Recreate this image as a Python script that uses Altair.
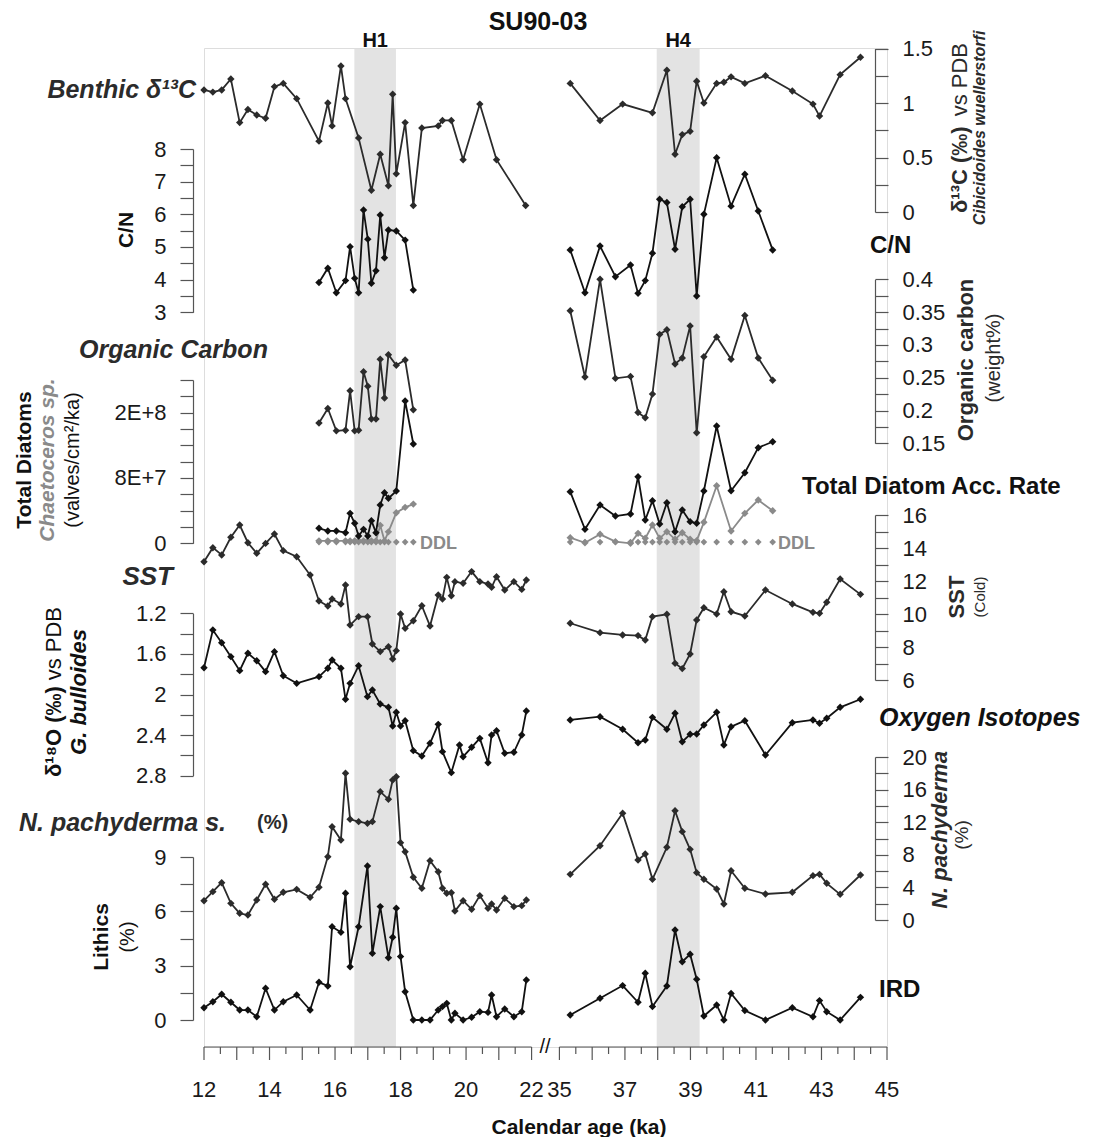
import altair as alt
import pandas as pd

FONT = "Liberation Sans"
AX = "#555555"
GAP = 0.85
W, H = 683, 999
OX, OY = 204, 48          # page position of the plot origin


def px(v):
    return v - OX


def py(v):
    return v - OY


def to_xp(a):
    return a if a < 30 else a - 35 + 22 + GAP


X0, X1 = 12.0, to_xp(45)

# ---------------- data ----------------
# Heinrich events (ka)
H_NAMES = ["H1", "H4"]
H_START = [16.59, 37.97]
H_END = [17.86, 39.28]

# Benthic d13C
BEN_AGE_L = [12.00, 12.27, 12.54, 12.82, 13.09, 13.34, 13.61, 13.88, 14.15, 14.42, 14.83, 15.51,
             15.78, 15.91, 16.18, 16.32, 16.72, 17.11, 17.38, 17.63, 17.76, 17.87, 18.14, 18.39,
             18.65, 19.15, 19.28, 19.55, 19.91, 20.42, 20.93, 21.82]
BEN_VAL_L = [1.12, 1.10, 1.12, 1.22, 0.82, 0.94, 0.89, 0.86, 1.15, 1.18, 1.04, 0.65,
             1.00, 0.79, 1.34, 1.04, 0.68, 0.20, 0.53, 0.24, 1.08, 0.35, 0.82, 0.06,
             0.77, 0.79, 0.84, 0.84, 0.48, 0.99, 0.48, 0.06]
BEN_AGE_R = [35.33, 36.24, 36.93, 37.84, 38.28, 38.53, 38.75, 38.99, 39.19, 39.41, 39.80, 40.02,
             40.24, 40.66, 41.29, 42.11, 42.74, 42.94, 43.57, 44.19]
BEN_VAL_R = [1.18, 0.84, 0.99, 0.91, 1.30, 0.53, 0.71, 0.74, 1.20, 1.00, 1.18, 1.19,
             1.24, 1.18, 1.25, 1.11, 0.99, 0.88, 1.26, 1.42]

# C/N, organic carbon, diatoms share sampling
GEO_AGE_L = [15.51, 15.78, 16.04, 16.32, 16.46, 16.60, 16.72, 16.87, 17.00, 17.11, 17.25, 17.38,
             17.51, 17.63, 17.87, 18.14, 18.39]
GEO_AGE_R = [35.33, 35.78, 36.24, 36.71, 37.17, 37.40, 37.62, 37.84, 38.06, 38.28, 38.53, 38.75,
             38.99, 39.19, 39.41, 39.80, 40.24, 40.66, 41.07, 41.51]
CN_L = [3.91, 4.35, 3.60, 3.97, 5.01, 4.04, 3.60, 6.13, 5.24, 3.89, 4.27, 5.98, 4.67, 5.52, 5.49, 5.21, 3.68]
CN_R = [4.91, 3.60, 5.03, 4.09, 4.45, 3.58, 3.97, 4.81, 6.46, 6.36, 4.93, 6.23, 6.46, 3.50, 6.00, 7.73,
        6.25, 7.23, 6.10, 4.91]
OC_L = [0.181, 0.203, 0.169, 0.170, 0.230, 0.169, 0.170, 0.259, 0.237, 0.187, 0.187, 0.278, 0.219,
        0.285, 0.269, 0.277, 0.201]
OC_R = [0.352, 0.251, 0.400, 0.249, 0.252, 0.197, 0.189, 0.225, 0.316, 0.323, 0.271, 0.280, 0.329,
        0.166, 0.282, 0.312, 0.278, 0.345, 0.280, 0.246]
DIA_L = [1.84e7, 1.51e7, 1.51e7, 1.30e7, 3.67e7, 2.45e7, 0.89e7, 1.71e7, 0.89e7, 2.77e7, 1.30e7, 4.69e7,
         6.20e7, 5.51e7, 6.41e7, 1.743e8, 1.216e8]
DIA_R = [6.32e7, 1.71e7, 4.69e7, 3.34e7, 3.59e7, 8.16e7, 2.85e7, 5.22e7, 2.36e7, 4.97e7, 1.42e7, 4.08e7,
         2.65e7, 2.45e7, 6.41e7, 1.437e8, 6.44e7, 8.65e7, 1.171e8, 1.244e8]
CHA_L = [0.3e7, 0.3e7, 0.3e7, 0.3e7, 0.3e7, 0.3e7, 0.3e7, 0.3e7, 0.3e7, 0.3e7, 0.3e7, 2.2e7,
         0.3e7, 1.4e7, 3.75e7, 4.4e7, 4.8e7]
CHA_R = [0.69e7, 0.07e7, 1.10e7, 0.2e7, 0.0, 1.22e7, 0.61e7, 2.24e7, 0.61e7, 1.42e7, 0.49e7, 1.30e7,
         0.49e7, 0.32e7, 2.57e7, 7.05e7, 1.51e7, 3.67e7, 5.30e7, 3.99e7]
DDL_LEVEL = 1.5e6

# SST, N. pachyderma, lithics share sampling
MAIN_AGE_L = [12.00, 12.27, 12.54, 12.82, 13.09, 13.34, 13.61, 13.88, 14.15, 14.42, 14.83, 15.24,
              15.51, 15.78, 15.91, 16.18, 16.32, 16.46, 16.72, 16.99, 17.14, 17.38, 17.63, 17.76,
              17.87, 18.00, 18.14, 18.39, 18.65, 18.90, 19.15, 19.28, 19.41, 19.55, 19.66, 19.91,
              20.17, 20.42, 20.67, 20.78, 20.93, 21.18, 21.46, 21.70, 21.84]
MAIN_AGE_R = [35.33, 36.24, 36.93, 37.40, 37.62, 37.84, 38.28, 38.53, 38.75, 38.99, 39.19, 39.41,
              39.80, 40.02, 40.24, 40.66, 41.29, 42.11, 42.74, 42.94, 43.16, 43.57, 44.19]
SST_L = [13.17, 14.02, 13.58, 14.65, 15.39, 14.32, 13.68, 14.28, 14.85, 13.84, 13.47, 12.36,
         10.79, 10.48, 10.91, 10.61, 11.76, 9.33, 9.84, 9.84, 8.18, 7.72, 8.02, 7.27,
         7.78, 10.0, 9.13, 9.59, 10.50, 9.27, 11.15, 10.91, 12.22, 11.11, 11.96, 11.86,
         12.57, 11.96, 11.82, 11.62, 12.26, 11.45, 11.96, 11.49, 12.06]
SST_R = [9.44, 8.87, 8.73, 8.69, 8.42, 9.84, 9.98, 7.01, 6.69, 7.58, 9.64, 10.38,
         10.0, 11.35, 10.14, 9.88, 11.45, 10.61, 10.10, 10.04, 10.71, 12.12, 11.19]
NP_L = [2.37, 3.48, 4.58, 2.04, 0.82, 0.61, 2.45, 4.38, 2.54, 3.40, 3.76, 2.78,
        4.01, 7.77, 11.45, 9.82, 18.0, 12.36, 12.07, 11.86, 12.07, 15.75, 14.81, 17.18,
        17.59, 9.49, 8.38, 5.24, 3.89, 7.28, 5.93, 3.89, 3.28, 3.35, 1.10, 2.37,
        1.31, 2.99, 1.43, 1.96, 1.23, 2.66, 1.64, 1.76, 2.45]
NP_R = [5.60, 9.12, 13.09, 7.36, 8.10, 4.99, 8.92, 13.41, 10.84, 8.67, 5.81, 4.99,
        3.80, 1.96, 6.05, 3.89, 3.19, 3.40, 5.44, 5.60, 4.50, 3.15, 5.52]
LIT_L = [0.68, 1.01, 1.42, 0.98, 0.55, 0.55, 0.18, 1.75, 0.55, 1.01, 1.38, 0.55,
         2.08, 1.88, 5.15, 4.84, 7.0, 2.94, 5.15, 8.50, 3.68, 6.26, 3.44, 4.57,
         6.17, 3.50, 1.56, 0.0, 0.0, 0.0, 0.55, 0.74, 0.92, 0.0, 0.37, 0.0,
         0.15, 0.46, 0.42, 1.38, 0.18, 0.61, 0.18, 0.46, 2.21]
LIT_R = [0.28, 1.20, 1.90, 0.98, 2.58, 0.74, 1.88, 4.97, 3.22, 3.63, 2.25, 0.22,
         0.83, 0.0, 1.47, 0.52, 0.0, 0.68, 0.18, 1.07, 0.46, 0.0, 1.25]

# Planktonic d18O (G. bulloides)
O18_AGE_L = [12.00, 12.27, 12.54, 12.82, 13.09, 13.34, 13.61, 13.88, 14.15, 14.42, 14.83, 15.51,
             15.78, 15.91, 16.18, 16.32, 16.46, 16.72, 16.99, 17.14, 17.38, 17.63, 17.76, 17.87,
             18.00, 18.14, 18.39, 18.65, 18.90, 19.15, 19.28, 19.55, 19.80, 19.91, 20.17, 20.42,
             20.67, 20.78, 20.93, 21.18, 21.46, 21.70, 21.84]
O18_L = [1.736, 1.365, 1.490, 1.627, 1.765, 1.594, 1.667, 1.775, 1.578, 1.815, 1.890, 1.824,
         1.742, 1.660, 1.742, 2.047, 1.890, 1.716, 2.021, 1.956, 2.094, 2.126, 2.310, 2.175,
         2.310, 2.258, 2.553, 2.606, 2.481, 2.294, 2.563, 2.770, 2.497, 2.613, 2.520, 2.432,
         2.672, 2.399, 2.357, 2.579, 2.569, 2.399, 2.163]
O18_R = [2.251, 2.219, 2.343, 2.475, 2.448, 2.225, 2.343, 2.185, 2.465, 2.392, 2.389, 2.300,
         2.175, 2.497, 2.317, 2.258, 2.596, 2.278, 2.251, 2.284, 2.234, 2.126, 2.047]

# axis ticks
BEN_TICKS = [0, 0.25, 0.5, 0.75, 1.0, 1.25, 1.5]
CN_TICKS = [3, 3.5, 4, 4.5, 5, 5.5, 6, 6.5, 7, 7.5, 8]
OC_TICKS = [0.15, 0.175, 0.2, 0.225, 0.25, 0.275, 0.3, 0.325, 0.35, 0.375, 0.4]
DIA_TICKS = [0, 20000000, 40000000, 60000000, 80000000, 100000000, 120000000, 140000000,
             160000000, 180000000, 200000000]
SST_TICKS = [6, 7, 8, 9, 10, 11, 12, 13, 14, 15, 16]
O18_TICKS = [1.2, 1.4, 1.6, 1.8, 2.0, 2.2, 2.4, 2.6, 2.8]
NP_TICKS = [0, 2, 4, 6, 8, 10, 12, 14, 16, 18, 20]
LIT_TICKS = [0, 1.5, 3, 4.5, 6, 7.5, 9]
XT_MAJOR_L = [12, 13, 14, 15, 16, 17, 18, 19, 20, 21, 22]
XT_MINOR_L = [12.5, 13.5, 14.5, 15.5, 16.5, 17.5, 18.5, 19.5, 20.5, 21.5]
XT_MAJOR_R = [35, 36, 37, 38, 39, 40, 41, 42, 43, 44, 45]
XT_MINOR_R = [35.5, 36.5, 37.5, 38.5, 39.5, 40.5, 41.5, 42.5, 43.5, 44.5]
XT_LABELS = [12, 14, 16, 18, 20, 22, 35, 37, 39, 41, 43, 45]


# ---------------- helpers ----------------
def frame(ages_l, vals_l, ages_r, vals_r):
    rows = []
    for a, v in zip(ages_l, vals_l):
        rows.append({"seg": "L", "age": a, "xp": to_xp(a), "v": v})
    for a, v in zip(ages_r, vals_r):
        rows.append({"seg": "R", "age": a, "xp": to_xp(a), "v": v})
    return pd.DataFrame(rows)


XS = alt.Scale(domain=[X0, X1], nice=False, zero=False)


def xenc(field="xp"):
    return alt.X(f"{field}:Q", scale=XS, axis=None)


def series(df, dom, page_rng, color, orient=None, values=None, label_expr=None,
           line=True, size=55, sw=1.8):
    yscale = alt.Scale(domain=dom, range=[py(page_rng[0]), py(page_rng[1])], nice=False, zero=False)
    if orient:
        axis = alt.Axis(orient=orient, offset=11 if orient == "left" else -12, values=values,
                        labelExpr=label_expr, format="~g", title=None, grid=False,
                        tickSize=13, tickColor=AX, domainColor=AX, tickWidth=1.2, domainWidth=1.2,
                        labelFont=FONT, labelFontSize=22, labelColor="#1a1a1a", labelPadding=14,
                        labelFlush=False, labelOverlap=False)
    else:
        axis = None
    base = alt.Chart(df)
    if line:
        m = base.mark_line(color=color, strokeWidth=sw, clip=False,
                           point=alt.OverlayMarkDef(shape="diamond", filled=True, size=size,
                                                    color=color, opacity=1))
    else:
        m = base.mark_point(shape="diamond", filled=True, size=size, color=color, opacity=1, clip=False)
    return m.encode(x=xenc(), y=alt.Y("v:Q", scale=yscale, axis=axis), detail="seg:N")


def label(text, x, y, size, weight="bold", style="normal", color="#1a1a1a", align="left", angle=0):
    return alt.Chart(pd.DataFrame({"a": [0]})).mark_text(
        text=text, font=FONT, fontSize=size, fontWeight=weight, fontStyle=style, color=color,
        align=align, baseline="middle", angle=angle, clip=False
    ).encode(x=alt.value(px(x)), y=alt.value(py(y)))


layers = []

# Heinrich bands
bands = pd.DataFrame({"name": H_NAMES,
                      "xs": [to_xp(a) for a in H_START],
                      "xe": [to_xp(a) for a in H_END]})
bands["xm"] = (bands["xs"] + bands["xe"]) / 2
layers.append(alt.Chart(bands).mark_rect(color="#e3e3e3").encode(
    x=xenc("xs"), x2="xe:Q", y=alt.value(py(49)), y2=alt.value(py(1047))))
layers.append(alt.Chart(bands).mark_text(font=FONT, fontSize=20, fontWeight="bold", color="#111",
                                         baseline="middle", clip=False).encode(
    x=xenc("xm"), y=alt.value(py(41)), text="name:N"))

DARK = "#2b2b2b"
BLACK = "#111111"
GRAY = "#8a8a8a"

layers.append(series(frame(BEN_AGE_L, BEN_VAL_L, BEN_AGE_R, BEN_VAL_R), [0, 1.5], (212, 48.5), DARK,
                     "right", BEN_TICKS, "datum.value*2 == round(datum.value*2) ? datum.label : ''"))
layers.append(series(frame(GEO_AGE_L, CN_L, GEO_AGE_R, CN_R), [3, 8], (312.3, 149), BLACK,
                     "left", CN_TICKS, "datum.value == round(datum.value) ? datum.label : ''"))
layers.append(series(frame(GEO_AGE_L, OC_L, GEO_AGE_R, OC_R), [0.15, 0.4], (443.3, 279.3), DARK,
                     "right", OC_TICKS,
                     "abs(datum.value*20 - round(datum.value*20)) < 0.01 ? datum.label : ''"))
dia_expr = ("datum.value == 0 ? '0' : datum.value == 80000000 ? '8E+7' : "
            "datum.value == 160000000 ? '2E+8' : ''")
layers.append(series(frame(GEO_AGE_L, [DDL_LEVEL] * len(GEO_AGE_L), GEO_AGE_R, [DDL_LEVEL] * len(GEO_AGE_R)),
                     [0, 2e8], (543.3, 380), GRAY, line=False, size=45))
layers.append(series(frame(GEO_AGE_L, CHA_L, GEO_AGE_R, CHA_R), [0, 2e8], (543.3, 380), GRAY))
layers.append(series(frame(GEO_AGE_L, DIA_L, GEO_AGE_R, DIA_R), [0, 2e8], (543.3, 380), BLACK,
                     "left", DIA_TICKS, dia_expr))
layers.append(series(frame(MAIN_AGE_L, SST_L, MAIN_AGE_R, SST_R), [6, 16], (680, 515), DARK,
                     "right", SST_TICKS, "datum.value % 2 == 0 ? datum.label : ''"))
layers.append(series(frame(O18_AGE_L, O18_L, MAIN_AGE_R, O18_R), [1.2, 2.8], (613.3, 775.7), BLACK,
                     "left", O18_TICKS,
                     "abs((datum.value-1.2)/0.4 - round((datum.value-1.2)/0.4)) < 0.01 ? datum.label : ''"))
layers.append(series(frame(MAIN_AGE_L, NP_L, MAIN_AGE_R, NP_R), [0, 20], (920, 757), DARK,
                     "right", NP_TICKS, "datum.value % 4 == 0 ? datum.label : ''"))
layers.append(series(frame(MAIN_AGE_L, LIT_L, MAIN_AGE_R, LIT_R), [0, 9], (1020, 857), BLACK,
                     "left", LIT_TICKS, "datum.value % 3 == 0 ? datum.label : ''"))

# custom broken x axis
segs = pd.DataFrame({"xs": [to_xp(12), to_xp(35)], "xe": [to_xp(22), to_xp(45)]})
layers.append(alt.Chart(segs).mark_rule(color=AX, strokeWidth=1.2).encode(
    x=xenc("xs"), x2="xe:Q", y=alt.value(py(1047))))
major = pd.DataFrame({"xp": [to_xp(a) for a in XT_MAJOR_L + XT_MAJOR_R]})
minor = pd.DataFrame({"xp": [to_xp(a) for a in XT_MINOR_L + XT_MINOR_R]})
layers.append(alt.Chart(major).mark_rule(color=AX, strokeWidth=1.2).encode(
    x=xenc(), y=alt.value(py(1047)), y2=alt.value(py(1060))))
layers.append(alt.Chart(minor).mark_rule(color=AX, strokeWidth=1.2).encode(
    x=xenc(), y=alt.value(py(1047)), y2=alt.value(py(1054))))
xl = pd.DataFrame({"xp": [to_xp(a) for a in XT_LABELS], "lab": [str(a) for a in XT_LABELS]})
layers.append(alt.Chart(xl).mark_text(font=FONT, fontSize=22, color="#1a1a1a", baseline="middle",
                                      clip=False).encode(
    x=xenc(), y=alt.value(py(1090)), text="lab:N"))

# text labels
T = [
    ("SU90-03", 538, 22, 25, "bold", "normal", "#111", "center", 0),
    ("Benthic δ¹³C", 196, 90, 25, "bold", "italic", DARK, "right", 0),
    ("C/N", 127, 230, 21, "bold", "normal", "#111", "center", 270),
    ("Organic Carbon", 79, 350, 25, "bold", "italic", DARK, "left", 0),
    ("Total Diatoms", 25, 460, 21, "bold", "normal", "#111", "center", 270),
    ("Chaetoceros sp.", 48, 460, 21, "bold", "italic", GRAY, "center", 270),
    ("(valves/cm²/ka)", 73, 460, 20, "normal", "normal", "#111", "center", 270),
    ("SST", 173, 577, 26, "bold", "italic", DARK, "right", 0),
    ("δ¹⁸O (‰)", 54, 777, 22, "bold", "normal", "#111", "left", 270),
    ("vs PDB", 54, 607, 22, "normal", "normal", "#111", "right", 270),
    ("G. bulloides", 79, 692, 22, "bold", "italic", "#111", "center", 270),
    ("N. pachyderma s.", 19, 823, 25, "bold", "italic", DARK, "left", 0),
    ("(%)", 257, 823, 20, "bold", "normal", DARK, "left", 0),
    ("Lithics", 102, 937, 21, "bold", "normal", "#111", "center", 270),
    ("(%)", 128, 937, 20, "normal", "normal", "#111", "center", 270),
    ("δ¹³C (‰)", 960, 213, 22, "bold", "normal", DARK, "left", 270),
    ("vs PDB", 960, 43, 22, "normal", "normal", DARK, "right", 270),
    ("Cibicidoides wuellerstorfi", 980, 128, 16, "bold", "italic", DARK, "center", 270),
    ("C/N", 870, 246, 24, "bold", "normal", "#111", "left", 0),
    ("Organic carbon", 966, 360, 22, "bold", "normal", DARK, "center", 270),
    ("(weight%)", 994, 358, 20, "normal", "normal", DARK, "center", 270),
    ("Total Diatom Acc. Rate", 802, 487, 24, "bold", "normal", "#111", "left", 0),
    ("SST", 957, 597, 22, "bold", "normal", DARK, "center", 270),
    ("(Cold)", 980, 597, 15, "normal", "normal", DARK, "center", 270),
    ("Oxygen Isotopes", 879, 718, 25, "bold", "italic", "#111", "left", 0),
    ("N. pachyderma", 940, 830, 22, "bold", "italic", DARK, "center", 270),
    ("(%)", 962, 835, 19, "normal", "normal", DARK, "center", 270),
    ("IRD", 879, 990, 24, "bold", "normal", "#111", "left", 0),
    ("DDL", 420, 544, 18, "bold", "normal", GRAY, "left", 0),
    ("DDL", 778, 544, 18, "bold", "normal", GRAY, "left", 0),
    ("//", 545, 1047, 20, "normal", "normal", "#111", "center", 0),
    ("Calendar age (ka)", 579, 1128, 21, "bold", "normal", "#111", "center", 0),
]
for t in T:
    layers.append(label(t[0], t[1], t[2], t[3], t[4], t[5], t[6], t[7], t[8]))

chart = alt.layer(*layers).resolve_scale(y="independent").resolve_axis(y="independent").properties(
    width=W, height=H,
    autosize=alt.AutoSizeParams(type="none"),
    padding={"left": 196, "top": 40, "right": 211, "bottom": 90},
    background="white",
).configure_view(stroke=None).configure(font=FONT)

chart.save("out.html", embed_options={"renderer": "svg", "actions": False})
